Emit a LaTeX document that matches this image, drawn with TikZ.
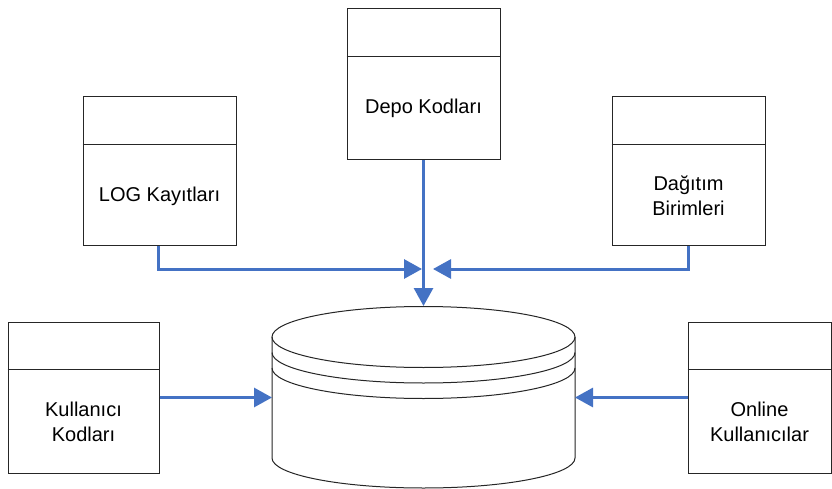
\documentclass[tikz,border=0pt]{standalone}
\usepackage{fontspec}
\setmainfont{Liberation Sans}
\usetikzlibrary{arrows.meta}
\definecolor{flow}{HTML}{4472C4}
\definecolor{edge}{HTML}{262626}
\begin{document}
\begin{tikzpicture}[x=1pt,y=-1pt,
  tbl/.style={draw=edge,line width=1pt,fill=white,minimum width=153pt,inner sep=0pt},
  lbl/.style={align=center,font=\fontsize{20}{25}\selectfont},
  link/.style={draw=flow,line width=3pt,-{Triangle[length=18pt,width=19pt]}},
  drum/.style={draw=edge,line width=1pt}]
\useasboundingbox (0,0) rectangle (832,489);

% table boxes: header band plus body
\node[tbl,minimum height=148pt] (log) at (159.5,171) {};
\draw[drum] ([yshift=-48pt]log.north west) -- ([yshift=-48pt]log.north east);
\node[lbl] (logt) at (159.5,196) {LOG Kayıtları};

\node[tbl,minimum height=151pt] (depo) at (423.5,84.5) {};
\draw[drum] ([yshift=-48pt]depo.north west) -- ([yshift=-48pt]depo.north east);
\node[lbl] (depot) at (423.5,108.5) {Depo Kodları};

\node[tbl,minimum height=148pt] (dag) at (688.5,171) {};
\draw[drum] ([yshift=-48pt]dag.north west) -- ([yshift=-48pt]dag.north east);
\node[lbl] (dagt) at (688.5,196) {Dağıtım\\Birimleri};

\node[tbl,minimum width=151pt,minimum height=151pt] (kul) at (83.5,397.5) {};
\draw[drum] ([yshift=-48pt]kul.north west) -- ([yshift=-48pt]kul.north east);
\node[lbl] (kult) at (83.5,421.5) {Kullanıcı\\Kodları};

\node[tbl,minimum width=143pt,minimum height=151pt] (onl) at (759.5,397.5) {};
\draw[drum] ([yshift=-48pt]onl.north west) -- ([yshift=-48pt]onl.north east);
\node[lbl] (onlt) at (759.5,421.5) {Online\\Kullanıcılar};

% database drum
\fill[white] (272,337) -- (272,458) arc[start angle=180,end angle=360,x radius=151.5,y radius=-30] -- (575,337) arc[start angle=0,end angle=180,x radius=151.5,y radius=-30.5] -- cycle;
\draw[drum] (423.5,337) ellipse[x radius=151.5,y radius=30.5];
\draw[drum] (272,352.5) arc[start angle=180,end angle=360,x radius=151.5,y radius=-30.5];
\draw[drum] (272,368) arc[start angle=180,end angle=360,x radius=151.5,y radius=-30.5];
\draw[drum] (272,337) -- (272,458) arc[start angle=180,end angle=360,x radius=151.5,y radius=-30] -- (575,337);
\coordinate (dbtop) at (423.5,306);
\coordinate (dbL) at (272,397.5);
\coordinate (dbR) at (575,397.5);

% junction points above the drum
\coordinate (jl) at (422,269);
\coordinate (jr) at (433,269);

% connectors
\draw[link] (depo.south) -- (dbtop);
\draw[link] ([xshift=-1.5pt]log.south) |- (jl);
\draw[link] (dag.south) |- (jr);
\draw[link] (kul.east) -- (dbL);
\draw[link] (onl.west) -- (dbR);
\end{tikzpicture}
\end{document}
